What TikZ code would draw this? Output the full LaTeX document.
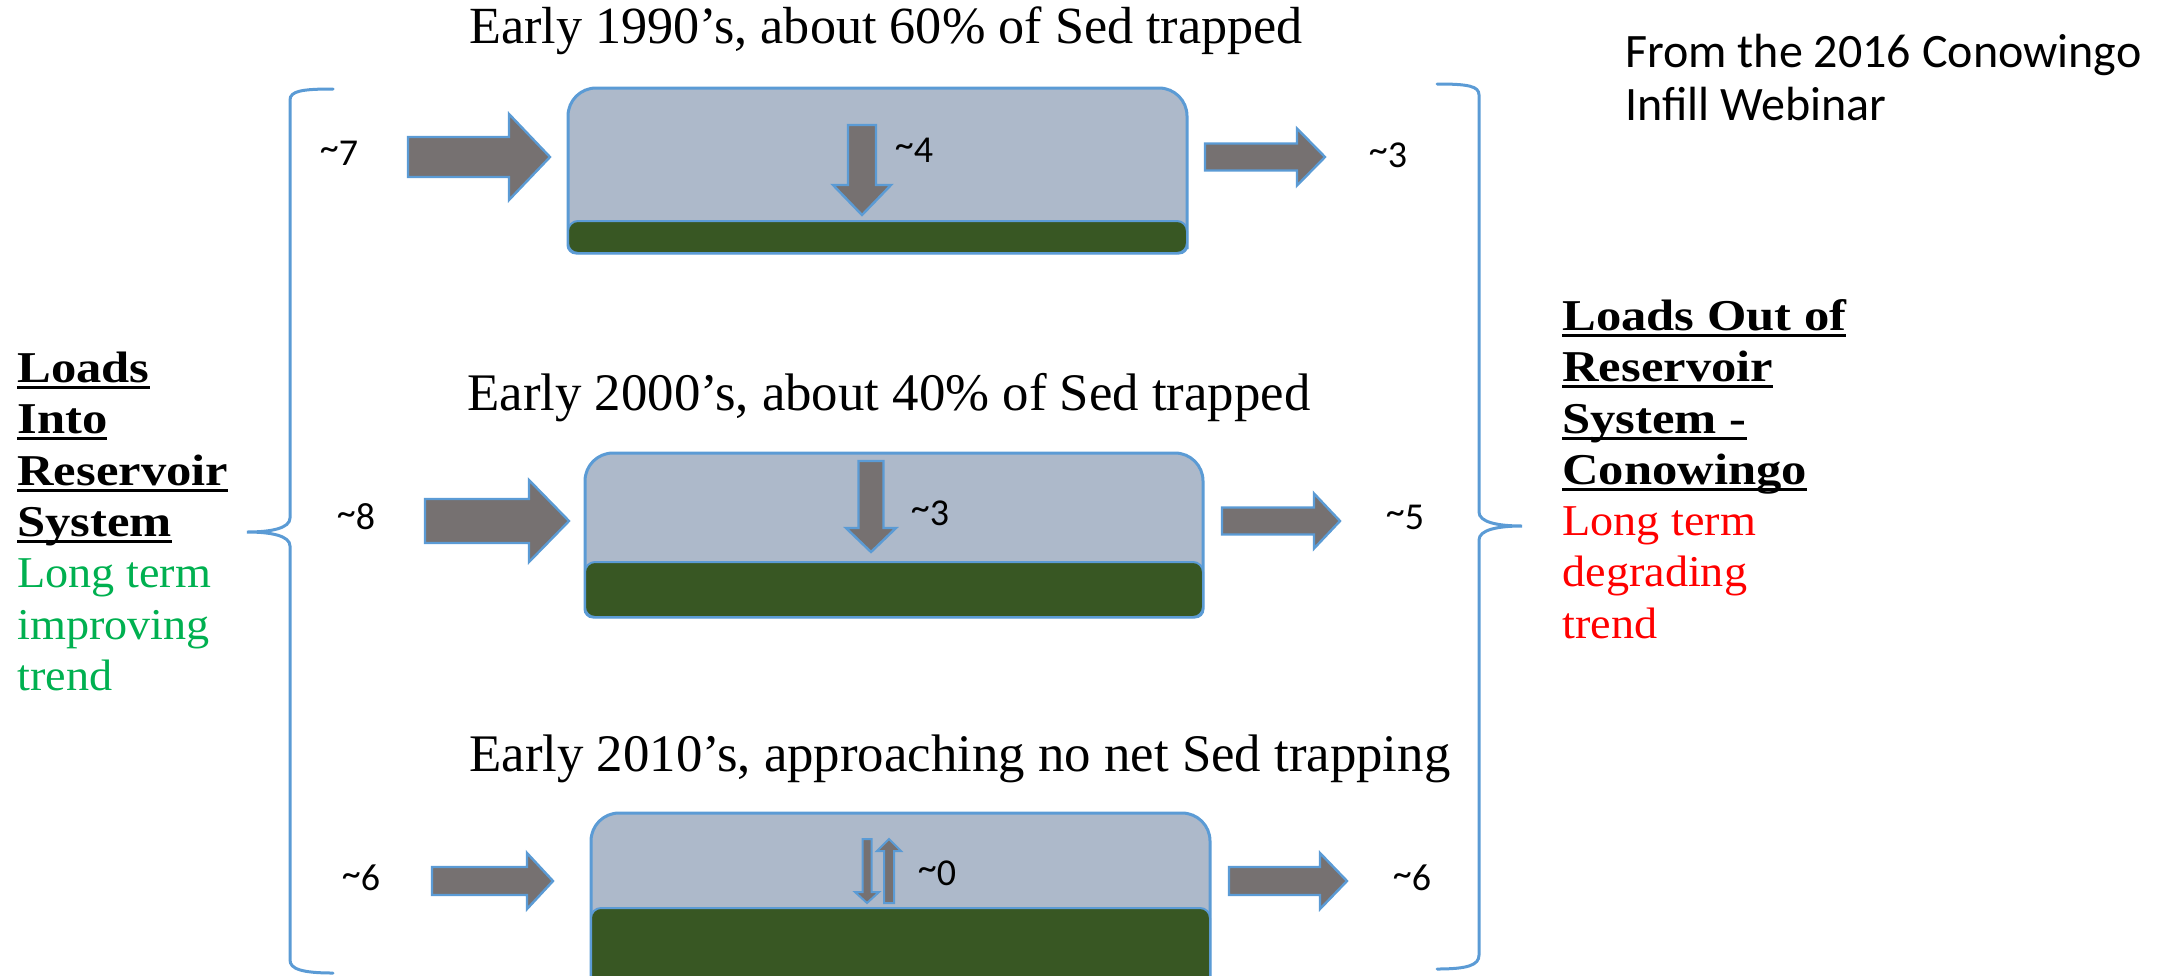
\documentclass[tikz,border=0pt]{standalone}
\usepackage{fontspec}
\setmainfont{Liberation Serif}
\newfontfamily\calibfont{Carlito}
\newfontfamily\headfont{Liberation Serif}[FakeStretch=1.15]
\newfontfamily\trendfont{Liberation Serif}[FakeStretch=1.05]

\definecolor{boxfill}{HTML}{ADB9CA}
\definecolor{sedfill}{HTML}{385723}
\definecolor{edgeblue}{HTML}{5B9BD5}
\definecolor{arrowgray}{HTML}{767171}
\definecolor{goodtxt}{HTML}{00B050}
\definecolor{badtxt}{HTML}{FF0000}

% underline with a fixed rule below the word
\newcommand{\ulword}[1]{\leavevmode\setbox0\hbox{#1}\rlap{\rule[-3.4pt]{\wd0}{1.3pt}}\box0}
% approximate value: raised tilde before the number
\newcommand{\approxval}[1]{\raisebox{0.12em}{\textasciitilde}#1}

\tikzset{
  basin/.style={fill=boxfill, draw=edgeblue, line width=1.5pt},
  sediment/.style={fill=sedfill, draw=edgeblue, line width=1pt, rounded corners=5pt},
  blockarrow/.style={fill=arrowgray, draw=edgeblue, line width=1.2pt, line join=miter},
  thinarrow/.style={fill=arrowgray, draw=edgeblue, line width=1pt, line join=miter},
  brace/.style={draw=edgeblue, line width=1.5pt, line cap=round},
  load/.style={font=\calibfont\fontsize{19}{22}\selectfont, inner sep=0pt},
  title/.style={font=\fontsize{26.4}{30}\selectfont, anchor=base west, inner sep=0pt},
  headlbl/.style={font=\headfont\bfseries\fontsize{22}{26}\selectfont, anchor=base west, inner sep=0pt},
  trendlbl/.style={font=\trendfont\fontsize{22}{26}\selectfont, anchor=base west, inner sep=0pt},
  source/.style={font=\calibfont\fontsize{24}{28}\selectfont, anchor=base west, inner sep=0pt},
}

% horizontal block arrow: x start, x head base, x tip, y centre, half shaft, half head
\newcommand{\harrow}[6]{%
  \draw[blockarrow] (#1,{#4-#5}) -- (#2,{#4-#5}) -- (#2,{#4-#6}) -- (#3,#4)
    -- (#2,{#4+#6}) -- (#2,{#4+#5}) -- (#1,{#4+#5}) -- cycle;}
% vertical block arrow: style, x centre, y start, y head base, y tip, half shaft, half head
\newcommand{\varrow}[7]{%
  \draw[#1] ({#2-#6},#3) -- ({#2+#6},#3) -- ({#2+#6},#4) -- ({#2+#7},#4)
    -- (#2,#5) -- ({#2-#7},#4) -- ({#2-#6},#4) -- cycle;}
% reservoir: x left, x right, y top, y sediment top, y bottom
\newcommand{\basin}[5]{%
  \draw[basin] ({(#1+#2)/2},#3) [rounded corners=14pt] -- (#2,#3) -- (#2,#4)
    [rounded corners=4pt] -- (#2,#5) -- (#1,#5) -- (#1,#4)
    [rounded corners=14pt] -- (#1,#3) -- cycle;
  \draw[sediment] (#1,#4) rectangle (#2,#5);}

\begin{document}
\begin{tikzpicture}[x=0.5pt, y=-0.5pt]
\useasboundingbox (0,0) rectangle (2166,975);
\clip (0,0) rectangle (2166,975);

% period titles
\node[title, font=\fontsize{26.1}{30}\selectfont] (t1) at (469,43) {Early 1990’s, about 60\% of Sed trapped};
\node[title] (t2) at (467,410) {Early 2000’s, about 40\% of Sed trapped};
\node[title] (t3) at (469,771) {Early 2010’s, approaching no net Sed trapping};

% source note
\node[source] (s1) at (1625,67)  {From the 2016 Conowingo};
\node[source] (s2) at (1625,120) {Infill Webinar};

% reservoirs
\basin{568}{1187}{88}{221}{253}
\basin{585}{1203}{453}{562}{617}
\basin{591}{1210}{813}{908}{995}

% loads in and out
\harrow{408}{509}{550}{157}{20}{43}
\harrow{1205}{1297}{1325}{157}{13.5}{28.5}
\harrow{425}{529}{569}{521}{22}{41}
\harrow{1222}{1314}{1340}{521}{13.5}{27.5}
\harrow{432}{527}{553}{881}{14}{28}
\harrow{1229}{1320}{1347}{881}{14}{28}

% deposition
\varrow{blockarrow}{862}{125}{185}{215}{14}{29}
\varrow{blockarrow}{871}{461}{528}{552}{12.5}{25}
\varrow{thinarrow}{867}{839}{892}{903}{4.5}{12}
\varrow{thinarrow}{889}{903}{851}{839}{5}{12}

% load values
\node[load] (in1)  at (339,153)  {\approxval{7}};
\node[load] (dep1) at (914,150)  {\approxval{4}};
\node[load] (out1) at (1388,155) {\approxval{3}};
\node[load] (in2)  at (356,517)  {\approxval{8}};
\node[load] (dep2) at (930,513)  {\approxval{3}};
\node[load] (out2) at (1405,517) {\approxval{5}};
\node[load] (in3)  at (361,878)  {\approxval{6}};
\node[load] (dep3) at (937,873)  {\approxval{0}};
\node[load] (out3) at (1412,878) {\approxval{6}};

% braces
\coordinate (lb) at (247,532);
\coordinate (rb) at (1522,526);
\draw[brace] (333,89) .. controls (302,89) and (290,91) .. (290,100)
  -- (290,518) .. controls (290,528) and (272,532) .. (lb)
  .. controls (272,532) and (290,536) .. (290,546)
  -- (290,960) .. controls (290,969) and (302,973) .. (333,973);
\draw[brace] (1437,84) .. controls (1468,84) and (1479,86) .. (1479,95)
  -- (1479,512) .. controls (1479,522) and (1497,526) .. (rb)
  .. controls (1497,526) and (1479,530) .. (1479,540)
  -- (1479,955) .. controls (1479,965) and (1468,969) .. (1437,969);

% loads into the reservoir system
\node[headlbl] (li1) at (17,382) {\ulword{Loads}};
\node[headlbl] (li2) at (17,433) {\ulword{Into}};
\node[headlbl] (li3) at (17,485) {\ulword{Reservoir}};
\node[headlbl] (li4) at (17,536) {\ulword{System}};
\node[trendlbl, text=goodtxt] (li5) at (17,587) {Long term};
\node[trendlbl, text=goodtxt] (li6) at (17,639) {improving};
\node[trendlbl, text=goodtxt] (li7) at (17,690) {trend};

% loads out of the reservoir system
\node[headlbl] (lo1) at (1562,330) {\ulword{Loads Out of}};
\node[headlbl] (lo2) at (1562,381) {\ulword{Reservoir}};
\node[headlbl] (lo3) at (1562,433) {\ulword{System -}};
\node[headlbl] (lo4) at (1562,484) {\ulword{Conowingo}};
\node[trendlbl, text=badtxt] (lo5) at (1562,535) {Long term};
\node[trendlbl, text=badtxt] (lo6) at (1562,586) {degrading};
\node[trendlbl, text=badtxt] (lo7) at (1562,638) {trend};
\end{tikzpicture}
\end{document}
